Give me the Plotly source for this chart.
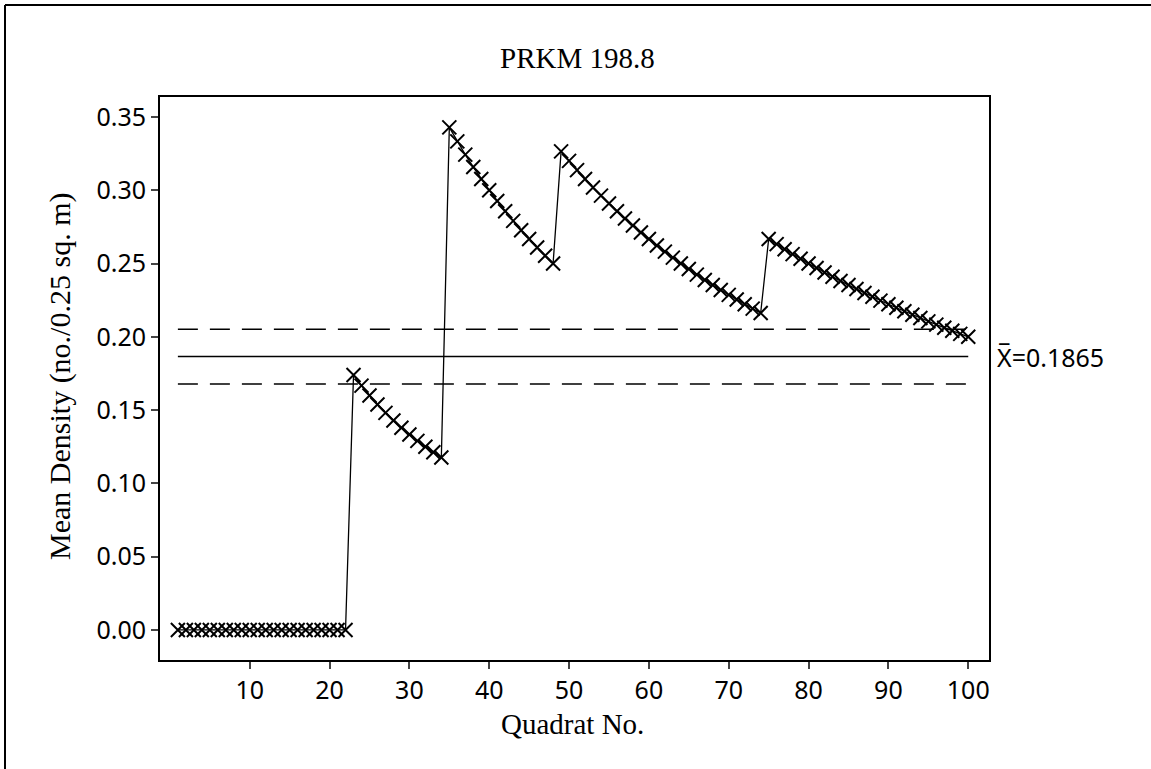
import plotly.graph_objects as go

quadrat = list(range(1, 101))
mean_density = [
    0, 0, 0, 0, 0, 0, 0, 0, 0, 0,
    0, 0, 0, 0, 0, 0, 0, 0, 0, 0,
    0, 0, 0.1739, 0.1667, 0.1600, 0.1538, 0.1481, 0.1429, 0.1379, 0.1333,
    0.1290, 0.1250, 0.1212, 0.1176, 0.3429, 0.3333, 0.3243, 0.3158, 0.3077, 0.3000,
    0.2927, 0.2857, 0.2791, 0.2727, 0.2667, 0.2609, 0.2553, 0.2500, 0.3265, 0.3200,
    0.3137, 0.3077, 0.3019, 0.2963, 0.2909, 0.2857, 0.2807, 0.2759, 0.2712, 0.2667,
    0.2623, 0.2581, 0.2540, 0.2500, 0.2462, 0.2424, 0.2388, 0.2353, 0.2319, 0.2286,
    0.2254, 0.2222, 0.2192, 0.2162, 0.2667, 0.2632, 0.2597, 0.2564, 0.2532, 0.2500,
    0.2469, 0.2439, 0.2410, 0.2381, 0.2353, 0.2326, 0.2299, 0.2273, 0.2247, 0.2222,
    0.2198, 0.2174, 0.2151, 0.2128, 0.2105, 0.2083, 0.2062, 0.2041, 0.2020, 0.2000,
]
center_line = 0.1865
upper_limit = 0.2052
lower_limit = 0.1678
x_ticks = [10, 20, 30, 40, 50, 60, 70, 80, 90, 100]
y_ticks = [0.00, 0.05, 0.10, 0.15, 0.20, 0.25, 0.30, 0.35]

SERIF = "Liberation Serif, Times New Roman, serif"
SANS = "Noto Sans, DejaVu Sans, sans-serif"

W, H = 1151, 769
ML, MR, MT, MB = 160, 162, 97, 109
PW, PH = W - ML - MR, H - MT - MB

def px(x):
    return (x - ML) / PW

def py(y):
    return (H - MB - y) / PH

fig = go.Figure()
xs = [quadrat[0], quadrat[-1]]
fig.add_trace(go.Scatter(x=xs, y=[upper_limit] * 2, mode="lines",
                         line=dict(color="black", width=1.5, dash="20px,12px"), hoverinfo="skip"))
fig.add_trace(go.Scatter(x=xs, y=[lower_limit] * 2, mode="lines",
                         line=dict(color="black", width=1.5, dash="20px,12px"), hoverinfo="skip"))
fig.add_trace(go.Scatter(x=xs, y=[center_line] * 2, mode="lines",
                         line=dict(color="black", width=1.5), hoverinfo="skip"))
fig.add_trace(go.Scatter(
    x=quadrat, y=mean_density, mode="lines+markers",
    line=dict(color="black", width=1.3),
    marker=dict(symbol="x-thin", size=14, line=dict(color="black", width=2), color="black"),
))

fig.update_layout(
    width=W, height=H,
    margin=dict(l=ML, r=MR, t=MT, b=MB),
    paper_bgcolor="white", plot_bgcolor="white",
    showlegend=False,
    font=dict(family=SANS, size=25, color="black"),
    xaxis=dict(range=[-1.24, 102.6], tickvals=x_ticks, ticks="outside", ticklen=7, tickwidth=2,
               showline=True, linewidth=2, linecolor="black", mirror=True,
               showgrid=False, zeroline=False, tickfont=dict(family=SANS, size=25)),
    yaxis=dict(range=[-0.0205, 0.3636], tickvals=y_ticks, tickformat=".2f", ticks="outside",
               ticklen=7, tickwidth=2, showline=True, linewidth=2, linecolor="black",
               mirror=True, showgrid=False, zeroline=False, tickfont=dict(family=SANS, size=25)),
)

fig.add_annotation(text="PRKM 198.8", xref="paper", yref="paper", x=px(577), y=py(58),
                   xanchor="center", yanchor="middle", showarrow=False,
                   font=dict(family=SERIF, size=29))
fig.add_annotation(text="Quadrat No.", xref="paper", yref="paper", x=px(572), y=py(724),
                   xanchor="center", yanchor="middle", showarrow=False,
                   font=dict(family=SERIF, size=29))
fig.add_annotation(text="Mean Density (no./0.25 sq. m)", xref="paper", yref="paper",
                   x=px(60), y=py(377), textangle=-90, xanchor="center", yanchor="middle",
                   showarrow=False, font=dict(family=SERIF, size=30))
fig.add_annotation(text="X\u0305=0.1865", xref="paper", yref="y", x=px(995), y=center_line,
                   xanchor="left", yanchor="middle", showarrow=False,
                   font=dict(family=SANS, size=25))

# outer frame (top and left edges visible)
fig.add_shape(type="line", xref="paper", yref="paper", x0=px(5), x1=px(1160), y0=py(5), y1=py(5),
              line=dict(color="black", width=2))
fig.add_shape(type="line", xref="paper", yref="paper", x0=px(5), x1=px(5), y0=py(5), y1=py(780),
              line=dict(color="black", width=2))

fig.write_html("out.html")
